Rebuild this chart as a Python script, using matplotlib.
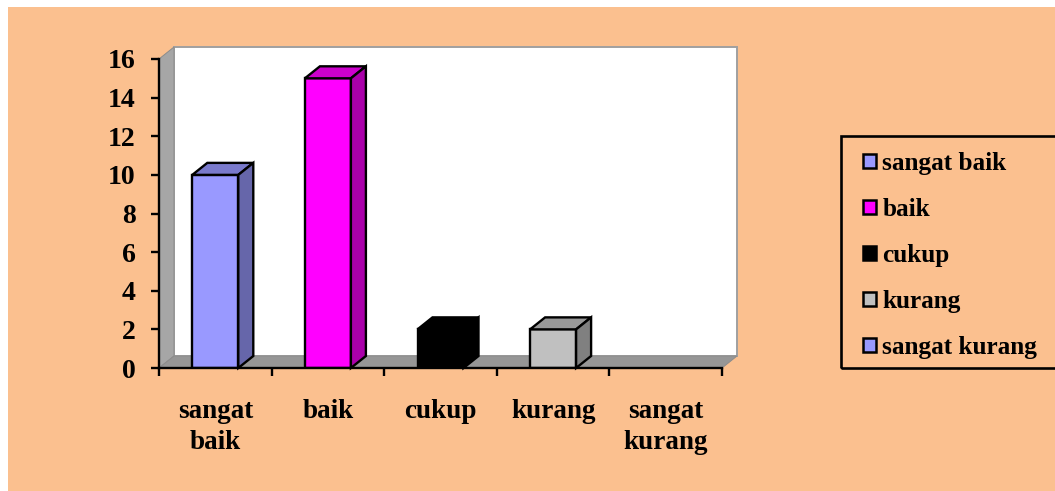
import matplotlib
matplotlib.use("Agg")
import matplotlib.pyplot as plt
from matplotlib.patches import Patch, Polygon, Rectangle

categories = ["sangat\nbaik", "baik", "cukup", "kurang", "sangat\nkurang"]
legend_names = ["sangat baik", "baik", "cukup", "kurang", "sangat kurang"]
values = [10, 15, 2, 2, 0]
y_ticks = [0, 2, 4, 6, 8, 10, 12, 14, 16]

front_colors = ["#9999FF", "#FF00FF", "#000000", "#C0C0C0", "#9999FF"]
top_colors = ["#7A7ACC", "#CC00CC", "#000000", "#999999", "#7A7ACC"]
side_colors = ["#6666AA", "#AA00AA", "#000000", "#808080", "#6666AA"]

W, H = 1055, 491
ORANGE = "#FBC08F"

plt.rcParams["font.family"] = ["Liberation Serif", "DejaVu Serif"]
plt.rcParams["font.weight"] = "bold"

fig = plt.figure(figsize=(W / 100, H / 100), dpi=100, facecolor="white")
fig.patches.append(Rectangle((8 / W, 0), 1, 1 - 7 / H, transform=fig.transFigure,
                             facecolor=ORANGE, edgecolor="none", zorder=-1))
# legend box runs off the right edge of the picture
fig.patches.append(Rectangle((841 / W, 1 - 368 / H), 300 / W, 232 / H, transform=fig.transFigure,
                             facecolor="none", edgecolor="black", linewidth=1.9, zorder=-0.5))

# front plane of the plot, in pixels from the top left corner
left, right, top, bottom = 159, 722, 59, 368
ax = fig.add_axes([left / W, 1 - bottom / H, (right - left) / W, (bottom - top) / H])
ax.set_zorder(2)
ax.patch.set_visible(False)
ax.set_xlim(0, len(categories))
ax.set_ylim(0, 16)

# depth of the fake 3d, converted to data units
dx = 15 / ((right - left) / len(categories))
dy = 12 / ((bottom - top) / 16)
n = len(categories)
ymax = y_ticks[-1]

ax.add_patch(Rectangle((dx, dy), n, ymax, facecolor="white", edgecolor="#A0A0A0",
                       linewidth=1.4, clip_on=False, zorder=1))
ax.add_patch(Polygon([(0, ymax), (dx, ymax + dy), (dx, dy), (0, 0)], facecolor="#A6A6A6",
                     edgecolor="#8C8C8C", linewidth=0.7, clip_on=False, zorder=1))
ax.add_patch(Polygon([(0, 0), (dx, dy), (n + dx, dy), (n, 0)], facecolor="#969696",
                     edgecolor="#8C8C8C", linewidth=0.7, clip_on=False, zorder=1))

bar_width = 46 / ((right - left) / len(categories))
for i, v in enumerate(values):
    if v == 0:
        continue
    x0 = i + 0.5 - bar_width / 2
    x1 = x0 + bar_width
    ax.bar(i + 0.5, v, width=bar_width, color=front_colors[i], edgecolor="black",
           linewidth=1.7, zorder=3)
    ax.add_patch(Polygon([(x0, v), (x0 + dx, v + dy), (x1 + dx, v + dy), (x1, v)],
                         facecolor=top_colors[i], edgecolor="black", linewidth=1.7,
                         clip_on=False, zorder=3))
    ax.add_patch(Polygon([(x1, 0), (x1 + dx, dy), (x1 + dx, v + dy), (x1, v)],
                         facecolor=side_colors[i], edgecolor="black", linewidth=1.7,
                         clip_on=False, zorder=3))

for s in ["top", "right"]:
    ax.spines[s].set_visible(False)
for s in ["left", "bottom"]:
    ax.spines[s].set_linewidth(1.7)
    ax.spines[s].set_zorder(4)

ax.set_yticks(y_ticks)
ax.tick_params(axis="y", labelsize=20, length=6, width=1.7, pad=11)
ax.set_xticks(range(n + 1))
ax.set_xticklabels([])
ax.tick_params(axis="x", which="major", length=6, width=1.7)
ax.set_xticks([i + 0.5 for i in range(n)], minor=True)
ax.set_xticklabels(categories, minor=True, fontsize=19.5, linespacing=1.28)
ax.tick_params(axis="x", which="minor", length=0, pad=22.5)

handles = [Patch(facecolor=c, edgecolor="black", linewidth=1.8) for c in front_colors]
leg = fig.legend(handles, legend_names, loc="lower left",
                 bbox_to_anchor=(863 / W, 1 - 359 / H), fontsize=18.2, frameon=False,
                 handlelength=0.5, handleheight=0.5, handletextpad=0.26,
                 labelspacing=0.91, borderpad=0, borderaxespad=0, labelcolor="black")

fig.savefig("out.png", dpi=100, facecolor=fig.get_facecolor())
